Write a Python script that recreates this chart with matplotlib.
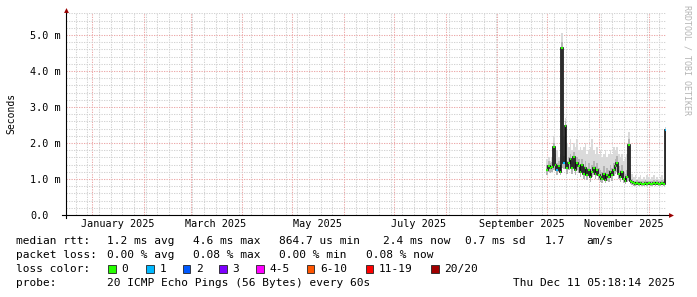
import numpy as np
import matplotlib
matplotlib.use('Agg')
import matplotlib.pyplot as plt
import matplotlib.dates as mdates
from matplotlib.patches import Rectangle
from matplotlib.ticker import MultipleLocator, FixedLocator

plt.rcParams['font.family'] = 'DejaVu Sans Mono'

# graph window: last 360 days
t_start = np.datetime64('2024-12-16T05:18:14')
t_end = np.datetime64('2025-12-11T05:18:14')
# first consolidated sample (1 per day)
first_sample = np.datetime64('2025-09-30T12:00')

# median rtt in ms, one value per day
median_ms = [1.25, 1.35, 1.30, 1.33, 1.90, 1.40, 1.25, 1.35, 1.20, 4.64,
             1.45, 2.48, 1.30, 1.45, 1.55, 1.30, 1.60, 1.25, 1.45, 1.35,
             1.20, 1.40, 1.15, 1.30, 1.10, 1.25, 1.05, 1.20, 1.30, 1.15,
             1.25, 1.10, 1.05, 1.00, 1.15, 0.97, 1.10, 1.05, 1.20, 1.10,
             1.25, 1.35, 1.45, 1.15, 1.05, 1.20, 1.00, 0.95, 1.05, 1.95,
             0.95, 0.92, 0.88, 0.86, 0.89, 0.87, 0.88, 0.86, 0.87, 0.89,
             0.86, 0.88, 0.87, 0.86, 0.88, 0.87, 0.89, 0.86, 0.87, 0.88,
             0.86, 2.36]
# lost pings per sample (0 .. 20)
loss = [0, 0, 0, 0, 0, 0, 1, 0, 0, 0,
        1, 0, 0, 0, 0, 0, 0, 0, 0, 0,
        0, 0, 0, 0, 0, 0, 0, 0, 0, 0,
        0, 0, 0, 0, 0, 0, 0, 0, 0, 0,
        0, 0, 0, 0, 0, 0, 0, 0, 0, 0,
        0, 0, 0, 0, 0, 0, 0, 0, 0, 0,
        0, 0, 0, 0, 0, 0, 0, 0, 0, 0,
        0, 1]
# smoke: lowest ping, inner (darker) band top, highest ping
smoke_lo = [1.12, 1.20, 1.18, 1.20, 1.25, 1.25, 1.12, 1.20, 1.10, 1.30,
            1.28, 1.30, 1.15, 1.25, 1.30, 1.15, 1.30, 1.10, 1.25, 1.18,
            1.05, 1.20, 1.00, 1.12, 0.97, 1.08, 0.93, 1.05, 1.12, 1.00,
            1.08, 0.97, 0.93, 0.90, 1.00, 0.88, 0.95, 0.92, 1.02, 0.95,
            1.08, 1.15, 1.20, 1.00, 0.93, 1.02, 0.90, 0.86, 0.92, 0.95,
            0.85, 0.83, 0.81, 0.80, 0.82, 0.81, 0.82, 0.80, 0.81, 0.82,
            0.80, 0.82, 0.81, 0.80, 0.82, 0.81, 0.82, 0.80, 0.81, 0.82,
            0.80, 0.85]
smoke_mid = [1.40, 1.50, 1.45, 1.48, 2.00, 1.55, 1.45, 1.50, 1.40, 4.80,
             1.65, 2.60, 1.50, 1.60, 1.70, 1.50, 1.75, 1.45, 1.60, 1.55,
             1.40, 1.55, 1.35, 1.50, 1.30, 1.45, 1.25, 1.40, 1.50, 1.35,
             1.45, 1.30, 1.25, 1.20, 1.35, 1.20, 1.30, 1.25, 1.40, 1.30,
             1.45, 1.55, 1.65, 1.35, 1.25, 1.40, 1.20, 1.15, 1.25, 2.10,
             1.05, 1.00, 0.95, 0.94, 0.96, 0.95, 0.95, 0.94, 0.95, 0.96,
             0.94, 0.95, 0.95, 0.94, 0.96, 0.95, 0.96, 0.94, 0.95, 0.96,
             0.94, 2.40]
smoke_hi = [1.55, 1.60, 1.50, 1.60, 2.20, 1.70, 1.80, 1.60, 1.70, 5.05,
            2.20, 2.70, 2.00, 1.90, 2.10, 1.80, 2.00, 1.90, 2.10, 1.80,
            1.90, 1.80, 1.90, 2.00, 1.70, 1.80, 1.90, 2.10, 1.80, 1.70,
            1.90, 1.70, 1.80, 1.60, 1.70, 1.80, 1.60, 1.70, 1.80, 1.70,
            1.90, 1.80, 1.90, 1.70, 1.60, 1.70, 1.50, 1.60, 1.70, 2.30,
            1.30, 1.15, 1.05, 1.10, 1.00, 1.05, 1.10, 1.00, 1.05, 1.00,
            1.10, 1.05, 1.00, 1.05, 1.10, 1.00, 1.05, 1.00, 1.05, 1.10,
            1.00, 2.45]

y_ticks = [0, 1, 2, 3, 4, 5]
y_tick_labels = ['0.0', '1.0 m', '2.0 m', '3.0 m', '4.0 m', '5.0 m']
x_label_dates = ['2025-01-16', '2025-03-16', '2025-05-16',
                 '2025-07-16', '2025-09-16', '2025-11-16']
x_label_text = ['January 2025', 'March 2025', 'May 2025',
                'July 2025', 'September 2025', 'November 2025']

# legend text
rtt_stats = ['1.2 ms avg', '4.6 ms max', '864.7 us min', '2.4 ms now', '0.7 ms sd', '1.7', 'am/s']
loss_stats = ['0.00 % avg', '0.08 % max', '0.00 % min', '0.08 % now']
loss_names = ['0', '1', '2', '3', '4-5', '6-10', '11-19', '20/20']
loss_colors = ['#26ff00', '#00b8ff', '#0059ff', '#7e00ff', '#ff00ff', '#ff5500', '#ff0000', '#a10000']
probe_text = '20 ICMP Echo Pings (56 Bytes) every 60s'
stamp_text = 'Thu Dec 11 05:18:14 2025'

W, H = 697, 297
fig = plt.figure(figsize=(W / 100, H / 100), dpi=100)
fig.patch.set_facecolor('white')

# plot area in pixels: x 66..666, y 13..215
ax = fig.add_axes([66 / W, (H - 215) / H, 600 / W, 202 / H])
ax.set_xlim(mdates.date2num(t_start), mdates.date2num(t_end))
ax.set_ylim(0, 202 / 36)
for s in ax.spines.values():
    s.set_visible(False)

edges = mdates.date2num(first_sample + np.arange(len(median_ms) + 1) * np.timedelta64(1, 'D'))

# smoke
ax.stairs(smoke_hi, edges, baseline=smoke_lo, fill=True, color='#dadada', lw=0, zorder=2)
ax.stairs(smoke_mid, edges, baseline=smoke_lo, fill=True, color='#b4b4b4', lw=0, zorder=2)
# median line, black steps + loss colour on the flats
ax.stairs(median_ms, edges, baseline=None, color='#111111', lw=1.2, zorder=3)
ax.hlines(median_ms, edges[:-1], edges[1:], colors=[loss_colors[l] for l in loss], lw=1.5, zorder=4)

# grid
ax.xaxis.set_major_locator(mdates.MonthLocator())
ax.xaxis.set_minor_locator(mdates.WeekdayLocator(byweekday=mdates.SU))
ax.yaxis.set_major_locator(FixedLocator(y_ticks))
ax.yaxis.set_minor_locator(MultipleLocator(0.2))
ax.grid(which='minor', color='#d2d2d2', linestyle=(0, (1.2, 1.2)), lw=0.75)
ax.grid(which='major', color='#eca8a8', linestyle=(0, (1.2, 1.2)), lw=0.75)
ax.set_axisbelow(True)
ax.tick_params(axis='x', which='both', length=0, labelbottom=False)
ax.set_yticks(y_ticks, y_tick_labels)
ax.tick_params(axis='y', which='both', length=0, pad=36 * 0.72, labelsize=7.3)
for lab in ax.get_yticklabels():
    lab.set_horizontalalignment('left')

# month labels centred in the month
sec = ax.secondary_xaxis('bottom')
sec.set_xticks(mdates.date2num(np.array(x_label_dates, dtype='datetime64[D]')), x_label_text)
sec.tick_params(length=0, pad=3, labelsize=7.3)
sec.spines['bottom'].set_visible(False)

# overlay in pixel coordinates for axes arrows and legend
ov = fig.add_axes([0, 0, 1, 1], zorder=5)
ov.set_xlim(0, W)
ov.set_ylim(H, 0)
ov.axis('off')
ov.patch.set_alpha(0)

ov.plot([66, 66], [218, 12], color='black', lw=0.8)
ov.plot([62, 669], [215, 215], color='black', lw=0.8)
ov.plot(66, 10, marker='^', color='#990000', ms=3.5, mew=0)
ov.plot(671, 215, marker='>', color='#990000', ms=3.5, mew=0)

ov.text(11, 113, 'Seconds', rotation=90, ha='center', va='center', fontsize=7)
ov.text(687.5, 5, 'RRDTOOL / TOBI OETIKER', rotation=270, ha='center', va='top',
        fontsize=6.0, color='#b4b4b4')

fs = 8.0
ov.text(16, 241, 'median rtt:', va='center', fontsize=fs)
for txt, x in zip(rtt_stats, [107.3, 193.3, 279.3, 383, 465, 545, 586.5]):
    ov.text(x, 241, txt, va='center', fontsize=fs)

ov.text(16, 255, 'packet loss:', va='center', fontsize=fs)
for txt, x in zip(loss_stats, [107.3, 193.3, 279.3, 365.7]):
    ov.text(x, 255, txt, va='center', fontsize=fs)

ov.text(16, 269, 'loss color:', va='center', fontsize=fs)
box_x = [108.3, 146, 182.7, 219.3, 256, 306.7, 365.7, 431]
for name, col, x in zip(loss_names, loss_colors, box_x):
    ov.add_patch(Rectangle((x, 265), 7.5, 7.5, facecolor=col, edgecolor='#222222', lw=0.6))
    ov.text(x + 13.3, 269, name, va='center', fontsize=fs)

ov.text(16, 283, 'probe:', va='center', fontsize=fs)
ov.text(107.3, 283, probe_text, va='center', fontsize=fs)
ov.text(513.3, 283, stamp_text, va='center', fontsize=fs)

fig.savefig('out.png', dpi=100)
